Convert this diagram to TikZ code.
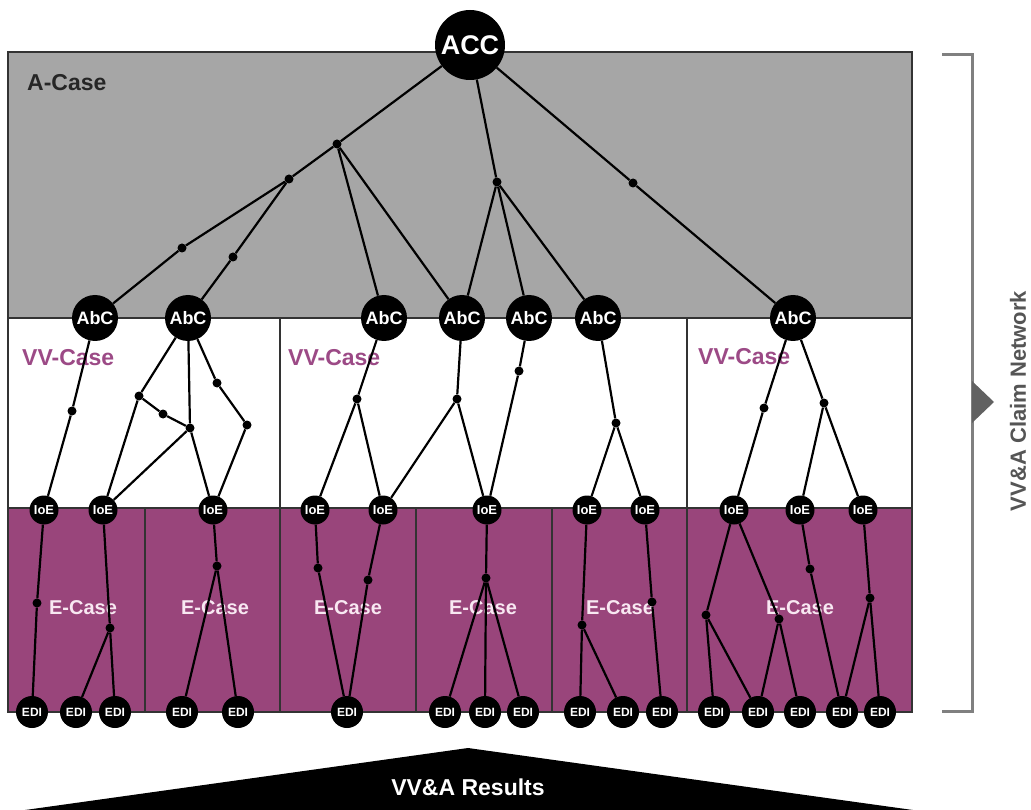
\documentclass[tikz,border=0pt]{standalone}
\usepackage{fontspec}
\setmainfont{Liberation Sans}
\definecolor{acasegray}{HTML}{A6A6A6}
\definecolor{ecasepurple}{HTML}{99457B}
\definecolor{vvtext}{HTML}{9C4A86}
\definecolor{etext}{HTML}{F8E8F2}
\definecolor{framegray}{HTML}{333333}
\definecolor{bracketgray}{HTML}{808080}
\definecolor{labelgray}{HTML}{555555}
\tikzset{
  claim/.style={circle, fill=black, text=white, inner sep=0pt},
  accnode/.style={claim, minimum size=70pt, font=\fontsize{27}{27}\selectfont\bfseries},
  abcnode/.style={claim, minimum size=46pt, font=\fontsize{18}{18}\selectfont\bfseries},
  ioenode/.style={claim, minimum size=29pt, font=\fontsize{13}{13}\selectfont\bfseries},
  edinode/.style={claim, minimum size=32pt, font=\fontsize{12}{12}\selectfont\bfseries},
  dotnode/.style={circle, fill=black, minimum size=9pt, inner sep=0pt},
  link/.style={line width=2.2pt, black},
  frameline/.style={line width=2pt, framegray},
  caselabel/.style={inner sep=0pt, font=\fontsize{23}{23}\selectfont\bfseries},
  elabel/.style={inner sep=0pt, text=etext, font=\fontsize{20}{20}\selectfont\bfseries},
}
\begin{document}
\begin{tikzpicture}[x=1pt, y=-1pt]
\useasboundingbox (0,0) rectangle (1031,810);

% case regions
\fill[acasegray] (8,52) rectangle (912,318);
\fill[white] (8,318) rectangle (912,508);
\fill[ecasepurple] (8,508) rectangle (912,712);
\draw[frameline] (8,52) rectangle (912,712);
\draw[frameline] (8,318) -- (912,318);
\draw[frameline] (8,508) -- (912,508);
\foreach \x in {280,687} \draw[frameline] (\x,318) -- (\x,712);
\foreach \x in {145,416,552} \draw[frameline] (\x,508) -- (\x,712);

% region labels
\node[caselabel, anchor=west, text=black!85] at (27,83) {A-Case};
\node[caselabel, anchor=west, text=vvtext] at (22,358) {VV-Case};
\node[caselabel, anchor=west, text=vvtext] at (288,358) {VV-Case};
\node[caselabel, anchor=west, text=vvtext] at (698,357) {VV-Case};
\node[elabel] at (83,608) {E-Case};
\node[elabel] at (215,608) {E-Case};
\node[elabel] at (348,608) {E-Case};
\node[elabel] at (483,608) {E-Case};
\node[elabel] at (620,608) {E-Case};
\node[elabel] at (800,608) {E-Case};

% top claim
\node[accnode] (acc) at (470,45) {ACC};

% argument claims
\foreach \x [count=\i] in {95,188,384,462,529,598,793}
  \node[abcnode] (abc\i) at (\x,318) {AbC};

% items of evidence
\foreach \x [count=\i] in {44,103,213,315,383,487,587,645,734,800,863}
  \node[ioenode] (ioe\i) at (\x,510) {IoE};

% evidence data items
\foreach \x [count=\i] in {32,76,115,182,238,347,445,485,523,580,623,662,714,758,800,842,880}
  \node[edinode] (edi\i) at (\x,712) {EDI};

% junctions in the A-Case
\node[dotnode] (a1) at (337,144) {};
\node[dotnode] (a2) at (289,179) {};
\node[dotnode] (a3) at (182,248) {};
\node[dotnode] (a4) at (233,257) {};
\node[dotnode] (a5) at (497,182) {};
\node[dotnode] (a6) at (633,183) {};

% junctions in the VV-Cases
\node[dotnode] (v1) at (72,411) {};
\node[dotnode] (b1) at (139,396) {};
\node[dotnode] (b2) at (163,414) {};
\node[dotnode] (b3) at (190,428) {};
\node[dotnode] (b4) at (217,383) {};
\node[dotnode] (b5) at (247,425) {};
\node[dotnode] (c1) at (357,399) {};
\node[dotnode] (d1) at (457,399) {};
\node[dotnode] (e1) at (519,371) {};
\node[dotnode] (f1) at (616,423) {};
\node[dotnode] (g1) at (764,408) {};
\node[dotnode] (g2) at (824,403) {};

% junctions in the E-Cases
\node[dotnode] (h1) at (37,603) {};
\node[dotnode] (h2) at (110,628) {};
\node[dotnode] (h3) at (217,566) {};
\node[dotnode] (h4) at (318,568) {};
\node[dotnode] (h5) at (368,580) {};
\node[dotnode] (h6) at (486,578) {};
\node[dotnode] (h7) at (582,625) {};
\node[dotnode] (h8) at (652,602) {};
\node[dotnode] (h9) at (706,615) {};
\node[dotnode] (h10) at (779,619) {};
\node[dotnode] (h11) at (810,569) {};
\node[dotnode] (h12) at (870,598) {};

% A-Case links
\draw[link] (acc) -- (a1) -- (a2) -- (a3) -- (abc1);
\draw[link] (a2) -- (a4) -- (abc2);
\draw[link] (a1) -- (abc3);
\draw[link] (a1) -- (abc4);
\draw[link] (acc) -- (a5) -- (abc4);
\draw[link] (a5) -- (abc5);
\draw[link] (a5) -- (abc6);
\draw[link] (acc) -- (a6) -- (abc7);

% VV-Case links
\draw[link] (abc1) -- (v1) -- (ioe1);
\draw[link] (abc2) -- (b1) -- (ioe2);
\draw[link] (b1) -- (b2) -- (b3);
\draw[link] (abc2) -- (b3) -- (ioe2);
\draw[link] (b3) -- (ioe3);
\draw[link] (abc2) -- (b4) -- (b5) -- (ioe3);
\draw[link] (abc3) -- (c1) -- (ioe4);
\draw[link] (c1) -- (ioe5);
\draw[link] (abc4) -- (d1) -- (ioe5);
\draw[link] (d1) -- (ioe6);
\draw[link] (abc5) -- (e1) -- (ioe6);
\draw[link] (abc6) -- (f1) -- (ioe7);
\draw[link] (f1) -- (ioe8);
\draw[link] (abc7) -- (g1) -- (ioe9);
\draw[link] (abc7) -- (g2) -- (ioe10);
\draw[link] (g2) -- (ioe11);

% E-Case links
\draw[link] (ioe1) -- (h1) -- (edi1);
\draw[link] (ioe2) -- (h2) -- (edi3);
\draw[link] (h2) -- (edi2);
\draw[link] (ioe3) -- (h3) -- (edi4);
\draw[link] (h3) -- (edi5);
\draw[link] (ioe4) -- (h4) -- (edi6);
\draw[link] (ioe5) -- (h5) -- (edi6);
\draw[link] (ioe6) -- (h6) -- (edi7);
\draw[link] (h6) -- (edi8);
\draw[link] (h6) -- (edi9);
\draw[link] (ioe7) -- (h7) -- (edi10);
\draw[link] (h7) -- (edi11);
\draw[link] (ioe8) -- (h8) -- (edi12);
\draw[link] (ioe9) -- (h9) -- (edi13);
\draw[link] (h9) -- (edi14);
\draw[link] (ioe9) -- (h10) -- (edi14);
\draw[link] (h10) -- (edi15);
\draw[link] (ioe10) -- (h11) -- (edi16);
\draw[link] (ioe11) -- (h12) -- (edi16);
\draw[link] (h12) -- (edi17);

% claim network bracket
\coordinate (brtop) at (942,55);
\coordinate (brbot) at (942,711);
\draw[bracketgray, line width=3pt] (brtop) -- (972,55) -- (972,711) -- (brbot);
\fill[black!62] (972,381) -- (994,402) -- (972,423) -- cycle;
\node[rotate=90, inner sep=0pt, text=labelgray, font=\fontsize{22}{22}\selectfont\bfseries] (cnet) at (1018,401) {VV\&A Claim Network};

% results wedge
\fill[black] (18,811) -- (468,748) -- (920,811) -- cycle;
\node[inner sep=0pt, text=white, font=\fontsize{23}{23}\selectfont\bfseries] (results) at (468,787) {VV\&A Results};
\end{tikzpicture}
\end{document}
